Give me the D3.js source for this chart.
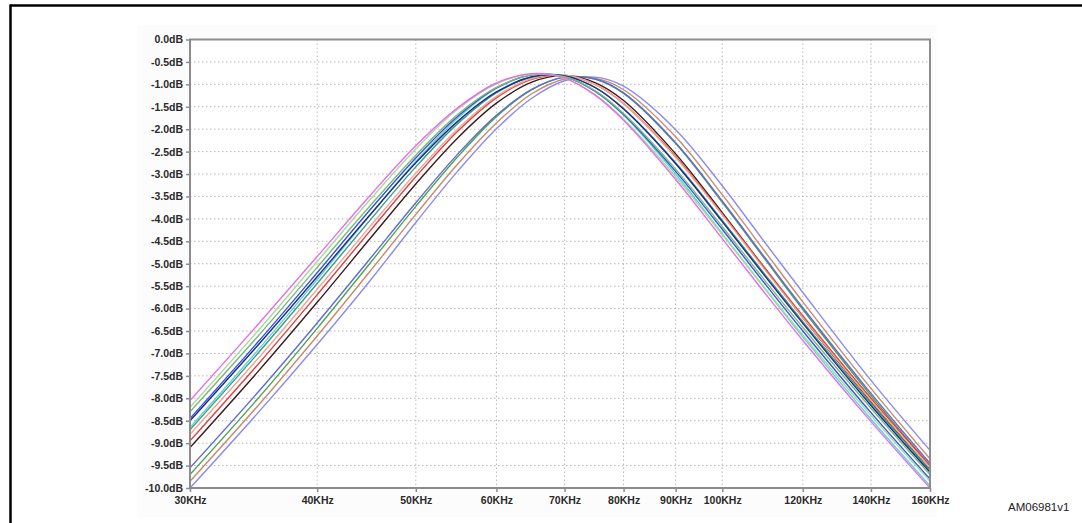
<!DOCTYPE html>
<html>
<head>
<meta charset="utf-8">
<script src="https://cdn.jsdelivr.net/npm/d3@7"></script>
<style>
  html, body { margin: 0; padding: 0; background: #ffffff; }
  svg { display: block; }
  .tick text { font-family: "Liberation Sans", Arial, sans-serif; font-weight: bold; font-size: 10.5px; fill: #2a2a2a; }
</style>
</head>
<body>
<svg id="chart" width="1082" height="523"></svg>
<script>
// ---- data ----
const freqs = [30, 35, 40, 45, 50, 55, 60, 65, 70, 75, 80, 90, 100, 110, 120, 140, 160];

const curve01 = [-8.05,-6.35,-4.84,-3.50,-2.37,-1.52,-0.97,-0.76,-0.86,-1.24,-1.80,-3.12,-4.44,-5.64,-6.71,-8.52,-10.0];
const curve02 = [-8.20,-6.49,-4.95,-3.59,-2.44,-1.55,-0.99,-0.77,-0.86,-1.23,-1.78,-3.06,-4.35,-5.53,-6.59,-8.38,-9.85];
const curve03 = [-8.30,-6.61,-5.08,-3.73,-2.58,-1.67,-1.07,-0.79,-0.83,-1.14,-1.65,-2.89,-4.17,-5.36,-6.42,-8.22,-9.70];
const curve04 = [-8.45,-6.74,-5.20,-3.82,-2.64,-1.71,-1.08,-0.79,-0.83,-1.15,-1.67,-2.94,-4.23,-5.43,-6.50,-8.32,-9.80];
const curve05 = [-8.50,-6.81,-5.29,-3.93,-2.75,-1.82,-1.17,-0.83,-0.81,-1.07,-1.55,-2.77,-4.06,-5.26,-6.33,-8.16,-9.65];
const curve06 = [-8.65,-6.92,-5.35,-3.94,-2.72,-1.75,-1.09,-0.79,-0.82,-1.16,-1.69,-3.00,-4.33,-5.54,-6.63,-8.46,-9.95];
const curve07 = [-8.70,-6.99,-5.44,-4.05,-2.84,-1.87,-1.19,-0.84,-0.81,-1.07,-1.54,-2.75,-4.03,-5.22,-6.29,-8.11,-9.60];
const curve08 = [-8.80,-7.11,-5.57,-4.19,-2.98,-1.99,-1.27,-0.87,-0.79,-1.00,-1.43,-2.63,-3.91,-5.12,-6.20,-8.05,-9.55];
const curve09 = [-8.95,-7.24,-5.69,-4.29,-3.06,-2.04,-1.30,-0.89,-0.80,-1.00,-1.43,-2.61,-3.89,-5.08,-6.16,-8.00,-9.50];
const curve10 = [-9.10,-7.40,-5.86,-4.46,-3.22,-2.19,-1.42,-0.95,-0.80,-0.96,-1.36,-2.55,-3.86,-5.09,-6.20,-8.07,-9.60];
const curve11 = [-9.55,-7.86,-6.32,-4.91,-3.64,-2.55,-1.69,-1.11,-0.84,-0.88,-1.19,-2.30,-3.60,-4.85,-5.98,-7.89,-9.45];
const curve12 = [-9.70,-8.00,-6.44,-5.01,-3.72,-2.61,-1.72,-1.12,-0.84,-0.88,-1.20,-2.32,-3.63,-4.88,-6.02,-7.94,-9.50];
const curve13 = [-9.85,-8.16,-6.61,-5.19,-3.90,-2.77,-1.86,-1.21,-0.88,-0.86,-1.12,-2.17,-3.46,-4.71,-5.85,-7.78,-9.35];
const curve14 = [-10.0,-8.32,-6.80,-5.40,-4.08,-2.93,-1.99,-1.31,-0.92,-0.84,-1.04,-2.01,-3.26,-4.51,-5.64,-7.60,-9.16];

const curveColors = ["#e86de8","#a6d99a","#7fb87a","#3355dd","#1f2b88","#5fd3d3","#3c9c84",
                     "#f2a594","#dd4444","#3a1c1c","#5c6cd6","#4fa34f","#c98a6c","#8b8bf0"];

const xTickValues = [30, 40, 50, 60, 70, 80, 90, 100, 120, 140, 160];
const xTickLabels = ["30KHz","40KHz","50KHz","60KHz","70KHz","80KHz","90KHz","100KHz","120KHz","140KHz","160KHz"];
const yTickValues = [0,-0.5,-1,-1.5,-2,-2.5,-3,-3.5,-4,-4.5,-5,-5.5,-6,-6.5,-7,-7.5,-8,-8.5,-9,-9.5,-10];
const yTickLabels = ["0.0dB","-0.5dB","-1.0dB","-1.5dB","-2.0dB","-2.5dB","-3.0dB","-3.5dB","-4.0dB","-4.5dB",
                     "-5.0dB","-5.5dB","-6.0dB","-6.5dB","-7.0dB","-7.5dB","-8.0dB","-8.5dB","-9.0dB","-9.5dB","-10.0dB"];
const figureId = "AM06981v1";

// ---- drawing ----
(function () {
const svg = d3.select("#chart");
const pLeft = 190, pRight = 930, pTop = 39.5, pBottom = 488;

// figure frame (top and left rule)
svg.append("line").attr("x1", 10).attr("x2", 1082).attr("y1", 5.5).attr("y2", 5.5)
  .attr("stroke", "#000").attr("stroke-width", 2.5);
svg.append("line").attr("x1", 10.5).attr("x2", 10.5).attr("y1", 4.5).attr("y2", 523)
  .attr("stroke", "#000").attr("stroke-width", 2.5);

// faint screenshot panel
svg.append("rect").attr("x", 137).attr("y", 25).attr("width", 800).attr("height", 492)
  .attr("fill", "#fcfcfc");

const x = d3.scaleLog().domain([30, 160]).range([pLeft, pRight]);
const y = d3.scaleLinear().domain([-10, 0]).range([pBottom, pTop]);

// white plotting area
svg.append("rect").attr("x", pLeft).attr("y", pTop).attr("width", pRight - pLeft).attr("height", pBottom - pTop)
  .attr("fill", "#ffffff");

// grid
const grid = svg.append("g");
grid.selectAll("line.h").data(yTickValues.filter(v => v > -10 && v < 0)).join("line")
  .attr("x1", pLeft).attr("x2", pRight)
  .attr("y1", d => y(d)).attr("y2", d => y(d))
  .attr("stroke", "#b8b8b8").attr("stroke-width", 1).attr("stroke-dasharray", "1.5,2.5");
grid.selectAll("line.v").data(xTickValues.filter(v => v > 30 && v < 160)).join("line")
  .attr("x1", d => x(d)).attr("x2", d => x(d))
  .attr("y1", pTop).attr("y2", pBottom)
  .attr("stroke", "#b8b8b8").attr("stroke-width", 1).attr("stroke-dasharray", "1.5,2.5");

// curves
const allCurves = [curve01, curve02, curve03, curve04, curve05, curve06, curve07,
                   curve08, curve09, curve10, curve11, curve12, curve13, curve14];
const line = d3.line()
  .x(d => x(d[0]))
  .y(d => y(d[1]))
  .curve(d3.curveCatmullRom.alpha(0.5));

svg.append("defs").append("clipPath").attr("id", "plotclip")
  .append("rect").attr("x", pLeft).attr("y", pTop).attr("width", pRight - pLeft).attr("height", pBottom - pTop + 1);

const curvesG = svg.append("g").attr("clip-path", "url(#plotclip)");
allCurves.map((vals, i) => ({ vals, i })).reverse().forEach(({ vals, i }) => {
  curvesG.append("path")
    .datum(freqs.map((f, k) => [f, vals[k]]))
    .attr("d", line)
    .attr("fill", "none")
    .attr("stroke", curveColors[i])
    .attr("stroke-width", 1.4);
});

// frame of plotting area
svg.append("rect").attr("x", pLeft).attr("y", pTop).attr("width", pRight - pLeft).attr("height", pBottom - pTop)
  .attr("fill", "none").attr("stroke", "#8c8c8c").attr("stroke-width", 2);

// axes
const yAxis = d3.axisLeft(y).tickValues(yTickValues)
  .tickFormat((d, i) => yTickLabels[i]).tickSize(4).tickPadding(3);
const gy = svg.append("g").attr("transform", `translate(${pLeft},0)`).call(yAxis);
gy.select(".domain").remove();
gy.selectAll(".tick line").attr("stroke", "#8c8c8c").attr("stroke-width", 1.5);

const xAxis = d3.axisBottom(x).tickValues(xTickValues)
  .tickFormat((d, i) => xTickLabels[i]).tickSize(4).tickPadding(5);
const gx = svg.append("g").attr("transform", `translate(0,${pBottom})`).call(xAxis);
gx.select(".domain").remove();
gx.selectAll(".tick line").attr("stroke", "#8c8c8c").attr("stroke-width", 1.5);

// figure id
svg.append("text").attr("x", 1008).attr("y", 511)
  .attr("font-family", "Liberation Sans, Arial, sans-serif").attr("font-size", 11.5)
  .attr("fill", "#222").text(figureId);
})();
</script>
</body>
</html>
